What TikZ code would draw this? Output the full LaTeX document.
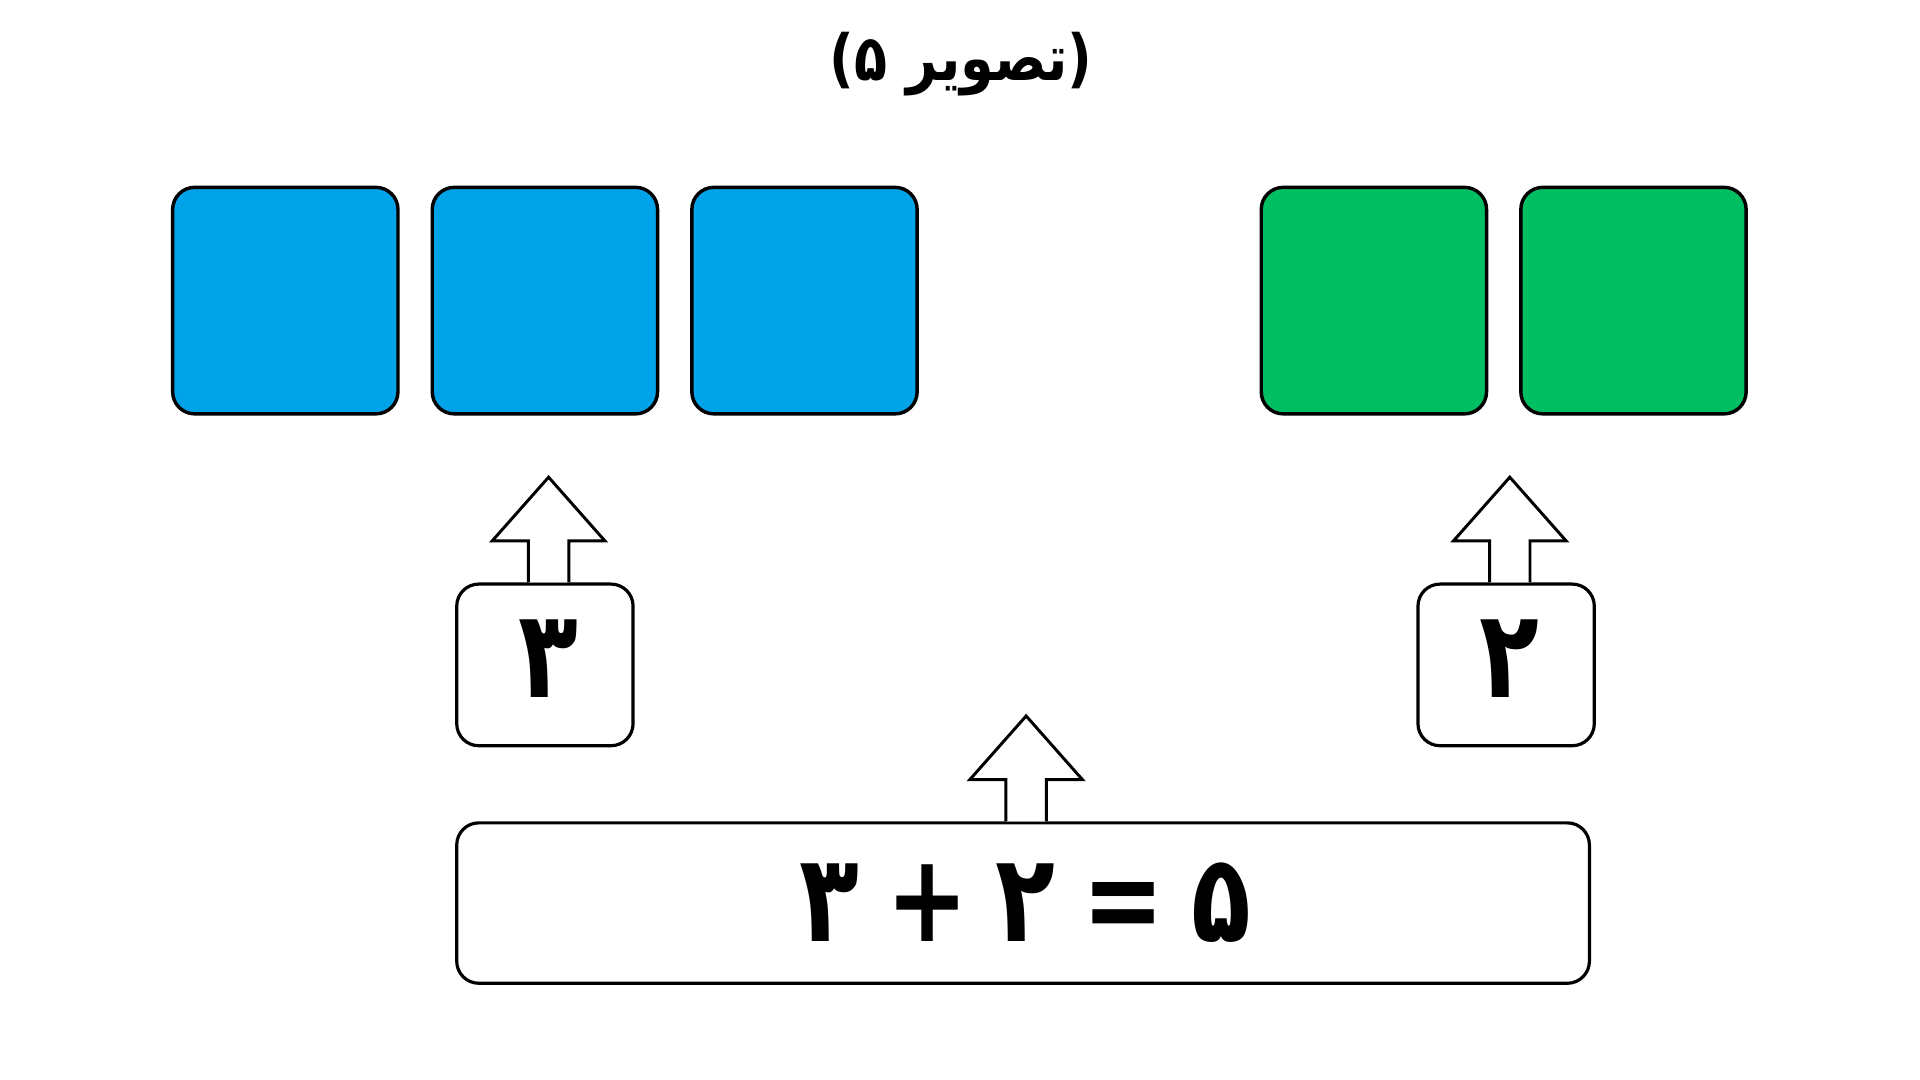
\documentclass[tikz,border=0pt]{standalone}
\usepackage{fontspec}
\usetikzlibrary{calc}
\TeXXeTstate=1
\newfontfamily\fa[Script=Arabic,FakeStretch=0.85]{DejaVu Sans}
\newfontfamily\fadig[Script=Arabic,FakeStretch=0.8]{DejaVu Sans}
\definecolor{boxblue}{RGB}{0,162,232}
\definecolor{boxgreen}{RGB}{0,190,98}
\tikzset{
  tile/.style={draw=black, line width=1.4pt, rounded corners=9pt, minimum width=92pt, minimum height=92.5pt, inner sep=0pt},
  bluetile/.style={tile, fill=boxblue},
  greentile/.style={tile, fill=boxgreen},
  numbox/.style={draw=black, line width=1.3pt, rounded corners=9pt, fill=white, inner sep=0pt, font=\fadig\bfseries\fontsize{50}{50}\selectfont},
  blockarrow/.style={draw=black, line width=1.2pt, fill=white, line join=miter},
}
\begin{document}
\begin{tikzpicture}[x=0.5pt, y=-0.5pt]
\useasboundingbox (0,0) rectangle (1568,882);
% title
\node[font=\fa\bfseries\fontsize{26}{26}\selectfont] (title) at (785,52) {\beginR(تصویر ۵)\endR};
% tiles
\node[bluetile] (b1) at (233,245.5) {};
\node[bluetile] (b2) at (445,245.5) {};
\node[bluetile] (b3) at (657,245.5) {};
\node[greentile] (g1) at (1122,245.5) {};
\node[greentile] (g2) at (1334,245.5) {};
% number boxes
\node[numbox, minimum width=72pt, minimum height=66pt] (s3) at (445,543) {\hspace{3pt}\raisebox{5pt}{۳}};
\node[numbox, minimum width=72pt, minimum height=66pt] (s2) at (1230,543) {\hspace{3pt}\raisebox{5pt}{۲}};
\node[numbox, minimum width=462.5pt, minimum height=65.5pt] (eq) at (835.5,737.5) {\hspace{2pt}\beginR ۵\hspace{11pt}=\hspace{11pt}۲\hspace{11pt}+\hspace{11pt}۳\endR};
% arrows
\foreach \n/\dx/\len in {s3/3/86, s2/3/86, eq/2.5/86} {
  \draw[blockarrow] ($(\n.north)+(\dx-16.5,0)$) -- ++(0,-34) -- ++(-29.5,0)
     -- ($(\n.north)+(\dx,-\len)$) -- ($(\n.north)+(\dx+46,-34)$) -- ++(-29.5,0) -- ($(\n.north)+(\dx+16.5,0)$);
}
\end{tikzpicture}
\end{document}
